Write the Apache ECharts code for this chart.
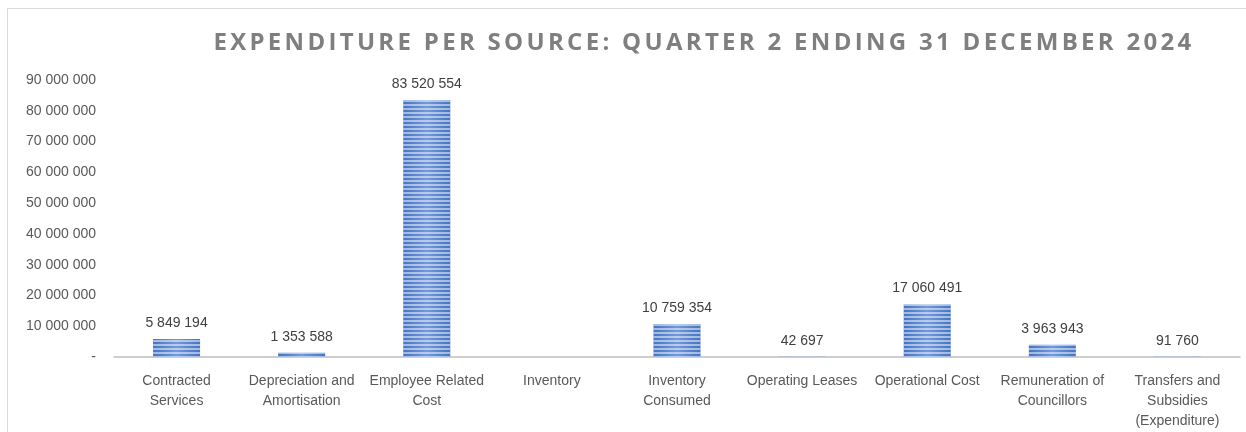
<!DOCTYPE html>
<html>
<head>
<meta charset="utf-8">
<title>Expenditure per source</title>
<script src="https://cdn.jsdelivr.net/npm/echarts@6/dist/echarts.min.js"></script>
<style>
  html, body { margin: 0; padding: 0; background: #fff; }
  #main { width: 1246px; height: 432px; }
</style>
</head>
<body>
<div id="main"></div>
<script>
// categories (line breaks as in the source chart)
const categories = [
  'Contracted\nServices',
  'Depreciation and\nAmortisation',
  'Employee Related\nCost',
  'Inventory',
  'Inventory\nConsumed',
  'Operating Leases',
  'Operational Cost',
  'Remuneration of\nCouncillors',
  'Transfers and\nSubsidies\n(Expenditure)'
];
// expenditure values
const values = [5849194, 1353588, 83520554, 0, 10759354, 42697, 17060491, 3963943, 91760];

const titleText = 'EXPENDITURE PER SOURCE: QUARTER 2 ENDING 31 DECEMBER 2024';

// spaced title like the original (only for the title font)
const origFill = CanvasRenderingContext2D.prototype.fillText;
CanvasRenderingContext2D.prototype.fillText = function (t, x, y, m) {
  const prev = this.letterSpacing;
  if (this.font.indexOf('bold') >= 0 && this.font.indexOf('24px') >= 0) {
    this.letterSpacing = '3.3px';
  }
  if (m === undefined) origFill.call(this, t, x, y);
  else origFill.call(this, t, x, y, m);
  this.letterSpacing = prev;
};

function spaced(n) {
  return String(Math.round(n)).replace(/\B(?=(\d{3})+(?!\d))/g, ' ');
}

const chart = echarts.init(document.getElementById('main'));

chart.setOption({
  animation: false,
  title: {
    text: titleText,
    left: 699,
    top: 26,
    textAlign: 'center',
    textStyle: {
      fontFamily: 'Open Sans',
      fontWeight: 'bold',
      fontSize: 24,
      color: '#7f7f7f'
    }
  },
  graphic: [{
    type: 'rect',
    shape: { x: 7.5, y: 8.5, width: 1400, height: 600 },
    style: { fill: 'none', stroke: '#d9d9d9', lineWidth: 1 },
    silent: true
  }],
  grid: { left: 114, right: 6, top: 80, bottom: 75 },
  xAxis: {
    type: 'category',
    data: categories,
    axisTick: { show: false },
    axisLine: { lineStyle: { color: '#bfbfbf', width: 1.5 } },
    axisLabel: {
      interval: 0,
      margin: 14,
      color: '#595959',
      fontFamily: 'Liberation Sans',
      fontSize: 14,
      lineHeight: 20
    }
  },
  yAxis: {
    type: 'value',
    min: 0,
    max: 90000000,
    interval: 10000000,
    splitLine: { show: false },
    axisLine: { show: false },
    axisTick: { show: false },
    axisLabel: {
      margin: 18,
      color: '#595959',
      fontFamily: 'Liberation Sans',
      fontSize: 14,
      formatter: v => v === 0 ? '-' : spaced(v)
    }
  },
  series: [{
    type: 'bar',
    data: values,
    barWidth: 47,
    itemStyle: {
      color: {
        type: 'linear', x: 0, y: 0, x2: 1, y2: 0,
        colorStops: [
          { offset: 0, color: '#4474c2' },
          { offset: 0.5, color: '#7299db' },
          { offset: 1, color: '#4474c2' }
        ]
      },
      decal: {
        symbol: 'rect',
        symbolSize: 1,
        dashArrayX: [1, 0],
        dashArrayY: [2, 2],
        rotation: 0,
        color: 'rgba(255,255,255,0.5)'
      }
    },
    label: {
      show: true,
      position: 'top',
      distance: 9,
      color: '#404040',
      fontFamily: 'Liberation Sans',
      fontSize: 14,
      formatter: p => p.value === 0 ? '' : spaced(p.value)
    }
  }]
});
</script>
</body>
</html>
